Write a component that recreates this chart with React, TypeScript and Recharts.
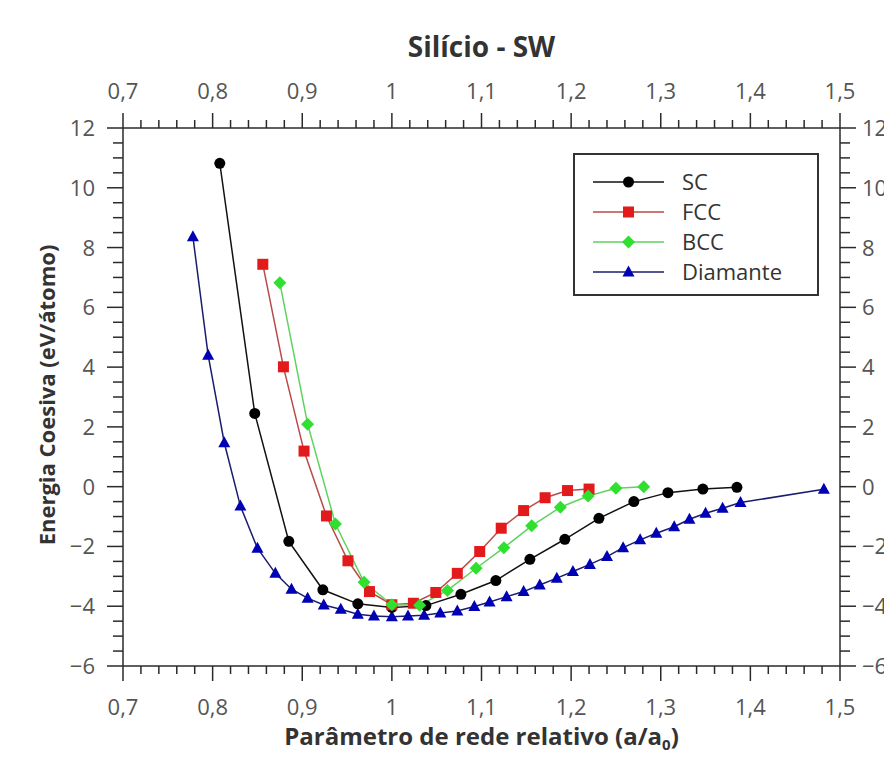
import React from "react";
import { LineChart, Line, XAxis, YAxis, Legend, Label } from "recharts";

// a/a0 values and cohesive energy (eV/atom)
const scX = [0.808, 0.847, 0.885, 0.923, 0.962, 1.0, 1.038, 1.077, 1.116, 1.154, 1.193, 1.231, 1.27, 1.308, 1.347, 1.385];
const scE = [10.82, 2.45, -1.83, -3.45, -3.92, -4.04, -3.98, -3.6, -3.14, -2.43, -1.76, -1.06, -0.5, -0.2, -0.08, -0.02];

const fccX = [0.856, 0.879, 0.902, 0.927, 0.951, 0.975, 1.0, 1.024, 1.049, 1.073, 1.098, 1.122, 1.147, 1.171, 1.196, 1.22];
const fccE = [7.44, 4.01, 1.19, -0.98, -2.48, -3.51, -3.95, -3.9, -3.54, -2.9, -2.17, -1.39, -0.8, -0.37, -0.13, -0.08];

const bccX = [0.875, 0.906, 0.937, 0.969, 1.0, 1.031, 1.062, 1.094, 1.125, 1.156, 1.188, 1.219, 1.25, 1.281];
const bccE = [6.82, 2.09, -1.25, -3.2, -3.95, -3.97, -3.47, -2.73, -2.04, -1.31, -0.69, -0.31, -0.05, 0.0];

const diaX = [
  0.778, 0.795, 0.813, 0.831, 0.85, 0.87, 0.888, 0.906, 0.924, 0.943, 0.962, 0.98, 1.0, 1.018, 1.036, 1.054, 1.073,
  1.092, 1.109, 1.128, 1.147, 1.165, 1.184, 1.202, 1.221, 1.24, 1.258, 1.277, 1.295, 1.315, 1.332, 1.35, 1.369, 1.389, 1.482,
];
const diaE = [
  8.36, 4.4, 1.47, -0.65, -2.06, -2.9, -3.43, -3.73, -3.96, -4.1, -4.27, -4.33, -4.35, -4.33, -4.3, -4.23, -4.16,
  -4.01, -3.86, -3.68, -3.51, -3.29, -3.06, -2.84, -2.6, -2.34, -2.04, -1.78, -1.56, -1.34, -1.09, -0.89, -0.72, -0.53, -0.09,
];

const xTicks = [0.7, 0.8, 0.9, 1.0, 1.1, 1.2, 1.3, 1.4, 1.5];
const yTicks = [-6, -4, -2, 0, 2, 4, 6, 8, 10, 12];

const FONT = "'Open Sans', 'Noto Sans', sans-serif";
const AXIS = "#2a2a2a";
const TICK_TEXT = "#555";

const toPoints = (xs: number[], ys: number[]) => xs.map((x, i) => ({ x, e: ys[i] }));

// major ticks plus evenly spaced minor ones in between
const withMinor = (major: number[], parts: number) => {
  const out: number[] = [];
  major.forEach((v, i) => {
    out.push(v);
    if (i < major.length - 1) {
      const step = (major[i + 1] - v) / parts;
      for (let k = 1; k < parts; k++) out.push(+(v + k * step).toFixed(4));
    }
  });
  return out;
};
const xAll = withMinor(xTicks, 5);
const yAll = withMinor(yTicks, 4);
const fmt = (v: number) => String(v).replace(".", ",");
const fmtY = (v: number) => (v < 0 ? "\u2212" + Math.abs(v) : String(v));

type Shape = "circle" | "square" | "diamond" | "triangle";

const SERIES: { name: string; data: { x: number; e: number }[]; line: string; fill: string; shape: Shape }[] = [
  { name: "SC", data: toPoints(scX, scE), line: "#111111", fill: "#000000", shape: "circle" },
  { name: "FCC", data: toPoints(fccX, fccE), line: "#b94a48", fill: "#e31a1c", shape: "square" },
  { name: "BCC", data: toPoints(bccX, bccE), line: "#5fd35f", fill: "#2fe02f", shape: "diamond" },
  { name: "Diamante", data: toPoints(diaX, diaE), line: "#1c1c6e", fill: "#0000b4", shape: "triangle" },
];
// drawing order, last on top
const DRAW_ORDER = ["Diamante", "SC", "FCC", "BCC"];

const marker = (shape: Shape, cx: number, cy: number, fill: string, key?: string | number) => {
  if (shape === "circle") return <circle key={key} cx={cx} cy={cy} r={5.5} fill={fill} />;
  if (shape === "square") return <rect key={key} x={cx - 5.5} y={cy - 5.5} width={11} height={11} fill={fill} />;
  if (shape === "diamond")
    return <polygon key={key} points={`${cx},${cy - 6.5} ${cx + 6.5},${cy} ${cx},${cy + 6.5} ${cx - 6.5},${cy}`} fill={fill} />;
  return <polygon key={key} points={`${cx},${cy - 6.5} ${cx + 6},${cy + 4.5} ${cx - 6},${cy + 4.5}`} fill={fill} />;
};

const tickText = { fontFamily: FONT, fontSize: 22, fill: TICK_TEXT };

const BottomTick = ({ x, y, payload }: any) => {
  const major = xTicks.includes(payload.value);
  return (
    <g>
      <line x1={x} x2={x} y1={y} y2={y + (major ? 15 : 8)} stroke={AXIS} strokeWidth={1.5} />
      {major && (
        <text x={x} y={y + 49} textAnchor="middle" {...tickText}>
          {fmt(payload.value)}
        </text>
      )}
    </g>
  );
};

const TopTick = ({ x, y, payload }: any) => {
  const major = xTicks.includes(payload.value);
  return (
    <g>
      <line x1={x} x2={x} y1={y} y2={y - (major ? 15 : 8)} stroke={AXIS} strokeWidth={1.5} />
      {major && (
        <text x={x} y={y - 29} textAnchor="middle" {...tickText}>
          {fmt(payload.value)}
        </text>
      )}
    </g>
  );
};

const LeftTick = ({ x, y, payload }: any) => {
  const major = yTicks.includes(payload.value);
  return (
    <g>
      <line x1={x} x2={x - (major ? 16 : 10)} y1={y} y2={y} stroke={AXIS} strokeWidth={1.5} />
      {major && (
        <text x={x - 28} y={y + 8} textAnchor="end" {...tickText}>
          {fmtY(payload.value)}
        </text>
      )}
    </g>
  );
};

// the figure's right-hand labels run past the image edge, as in the original
const RightTick = ({ x, y, payload }: any) => {
  const major = yTicks.includes(payload.value);
  return (
    <g>
      <line x1={x} x2={x + (major ? 16 : 10)} y1={y} y2={y} stroke={AXIS} strokeWidth={1.5} />
      {major && (
        <text x={x + 22} y={y + 8} textAnchor="start" {...tickText}>
          {fmtY(payload.value)}
        </text>
      )}
    </g>
  );
};

const titleStyle = { fontFamily: FONT, fontWeight: 700, fill: "#333" };

const TopTitle = (props: any) => {
  const vb = props.viewBox || { x: 123, y: 0, width: 717, height: 128 };
  return (
    <text x={vb.x + vb.width / 2} y={vb.y + 57} textAnchor="middle" fontSize={28} {...titleStyle}>
      Silício - SW
    </text>
  );
};

const BottomTitle = (props: any) => {
  const vb = props.viewBox || { x: 123, y: 666, width: 717, height: 98 };
  return (
    <text x={vb.x + vb.width / 2} y={vb.y + 79} textAnchor="middle" fontSize={24} {...titleStyle}>
      Parâmetro de rede relativo (a/a
      <tspan fontSize={15} dy={5}>
        0
      </tspan>
      <tspan dy={-5}>)</tspan>
    </text>
  );
};

const LeftTitle = (props: any) => {
  const vb = props.viewBox || { x: 0, y: 128, width: 123, height: 538 };
  const cx = vb.x + 55;
  const cy = vb.y + vb.height / 2 - 2;
  return (
    <text x={cx} y={cy} transform={`rotate(-90, ${cx}, ${cy})`} textAnchor="middle" fontSize={22} {...titleStyle}>
      Energia Coesiva (eV/átomo)
    </text>
  );
};

const LegendBox = () => (
  <div style={{ width: 246, height: 143, border: "2px solid #333", boxSizing: "border-box", background: "#fff" }}>
    <svg width={242} height={139}>
      {SERIES.map((s, i) => {
        const cy = 27 + i * 30;
        return (
          <g key={s.name}>
            <line x1={18} x2={89} y1={cy} y2={cy} stroke={s.line} strokeWidth={1.5} />
            {marker(s.shape, 53.5, cy, s.fill)}
            <text x={107} y={cy + 8} fontFamily={FONT} fontSize={22} fill="#333">
              {s.name}
            </text>
          </g>
        );
      })}
    </svg>
  </div>
);

export default function App() {
  return (
    <div style={{ position: "absolute", left: 0, top: 0, width: 884, height: 764, overflow: "hidden", background: "#fff" }}>
      <LineChart width={884} height={764} margin={{ top: 0, right: 0, bottom: 0, left: 0 }}>
        <XAxis
          xAxisId="bottom"
          dataKey="x"
          type="number"
          domain={[0.7, 1.5]}
          allowDataOverflow
          ticks={xAll}
          interval={0}
          height={98}
          tickSize={0}
          tickMargin={0}
          tickLine={false}
          tick={<BottomTick />}
          axisLine={{ stroke: AXIS, strokeWidth: 1.5 }}
        >
          <Label content={<BottomTitle />} />
        </XAxis>
        <XAxis
          xAxisId="top"
          orientation="top"
          dataKey="x"
          type="number"
          domain={[0.7, 1.5]}
          allowDataOverflow
          ticks={xAll}
          interval={0}
          height={128}
          tickSize={0}
          tickMargin={0}
          tickLine={false}
          tick={<TopTick />}
          axisLine={{ stroke: AXIS, strokeWidth: 1.5 }}
        >
          <Label content={<TopTitle />} />
        </XAxis>
        <YAxis
          yAxisId="left"
          type="number"
          domain={[-6, 12]}
          allowDataOverflow
          ticks={yAll}
          interval={0}
          width={123}
          tickSize={0}
          tickMargin={0}
          tickLine={false}
          tick={<LeftTick />}
          axisLine={{ stroke: AXIS, strokeWidth: 1.5 }}
        >
          <Label content={<LeftTitle />} />
        </YAxis>
        <YAxis
          yAxisId="right"
          orientation="right"
          type="number"
          domain={[-6, 12]}
          allowDataOverflow
          ticks={yAll}
          interval={0}
          width={44}
          tickSize={0}
          tickMargin={0}
          tickLine={false}
          tick={<RightTick />}
          axisLine={{ stroke: AXIS, strokeWidth: 1.5 }}
        />
        {DRAW_ORDER.map((n) => {
          const s = SERIES.find((q) => q.name === n)!;
          return (
            <Line
              key={s.name}
              name={s.name}
              xAxisId="bottom"
              yAxisId="left"
              data={s.data}
              dataKey="e"
              type="linear"
              stroke={s.line}
              strokeWidth={1.5}
              isAnimationActive={false}
              dot={(p: any) => marker(s.shape, p.cx, p.cy, s.fill, p.index)}
              activeDot={false}
            />
          );
        })}
        <Legend
          layout="horizontal"
          verticalAlign="middle"
          align="center"
          content={<LegendBox />}
          wrapperStyle={{ left: 573, top: 153, width: 246, height: 143 }}
        />
      </LineChart>
    </div>
  );
}
